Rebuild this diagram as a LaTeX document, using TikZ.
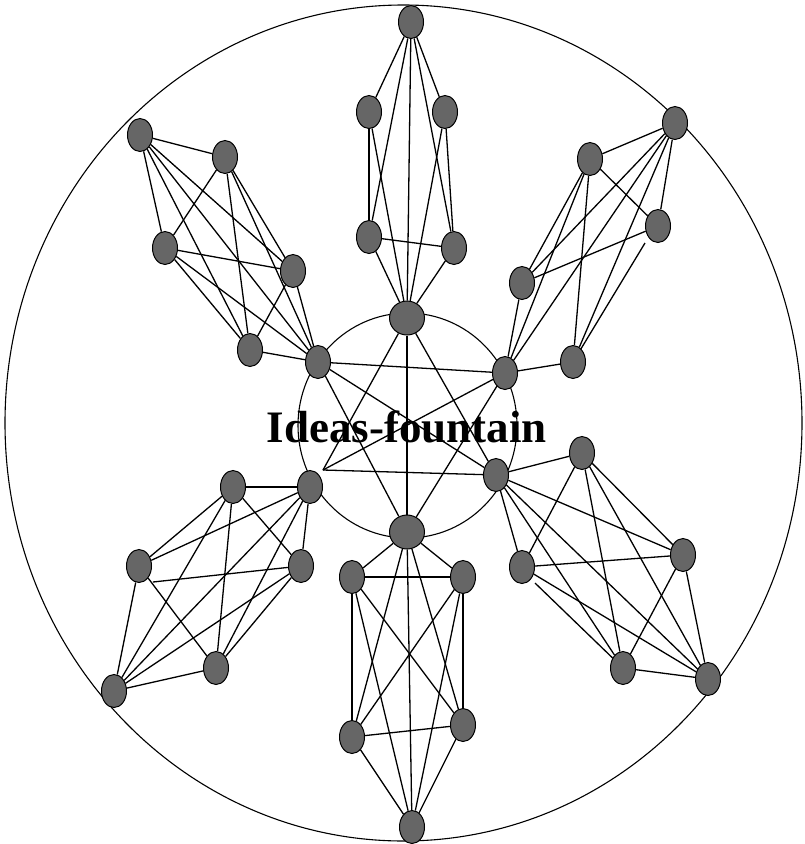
\documentclass[tikz,border=0pt]{standalone}
\usepackage{fontspec}
\setmainfont{Liberation Serif}
\usetikzlibrary{shapes.geometric}
\definecolor{nodegray}{RGB}{102,102,102}
\begin{document}
\begin{tikzpicture}[x=1pt,y=-1pt,
  dot/.style={ellipse,draw=black,fill=nodegray,line width=1pt,minimum width=25pt,minimum height=33pt,inner sep=0pt},
  bigdot/.style={dot,minimum width=35pt,minimum height=34pt},
  link/.style={line width=1.3pt},
  ring/.style={line width=1.1pt}]
\useasboundingbox (0,0) rectangle (805,844);
% circles
\draw[ring] (403.5,423) ellipse [x radius=398.5, y radius=418];
\draw[ring] (407.5,425.5) ellipse [x radius=109.5, y radius=112.5];
% inner nodes
\node[bigdot] (it) at (407,318) {};
\node[dot] (iul) at (318,362) {};
\node[dot] (iur) at (505,373) {};
\node[dot] (ill) at (310,487) {};
\node[dot] (ilr) at (496,475) {};
\node[bigdot] (ib) at (407,532) {};
\coordinate (llp) at (323,470);
% top cluster
\node[dot] (tT) at (411,22) {};
\node[dot] (tA) at (369,112) {};
\node[dot] (tB) at (445,112) {};
\node[dot] (tC) at (369,237) {};
\node[dot] (tD) at (454,248) {};
% upper-left cluster
\node[dot] (p1) at (140,135) {};
\node[dot] (p2) at (225,157) {};
\node[dot] (p3) at (165,248) {};
\node[dot] (p4) at (293,271) {};
\node[dot] (p5) at (250,350) {};
% upper-right cluster
\node[dot] (q1) at (675,123) {};
\node[dot] (q2) at (590,159) {};
\node[dot] (q3) at (658,226) {};
\node[dot] (q4) at (522,283) {};
\node[dot] (q5) at (573,362) {};
\coordinate (q3p) at (645,243);
% lower-left cluster
\node[dot] (r1) at (233,487) {};
\node[dot] (r2) at (139,566) {};
\node[dot] (r3) at (301,566) {};
\node[dot] (r4) at (216,668) {};
\node[dot] (r5) at (114,691) {};
\coordinate (r2p) at (153,582);
% bottom cluster
\node[dot] (bA) at (352,577) {};
\node[dot] (bB) at (463,577) {};
\node[dot] (bC) at (352,737) {};
\node[dot] (bD) at (463,725) {};
\node[dot] (bE) at (412,827) {};
% lower-right cluster
\node[dot] (s1) at (582,453) {};
\node[dot] (s2) at (522,567) {};
\node[dot] (s3) at (683,555) {};
\node[dot] (s4) at (623,668) {};
\node[dot] (s5) at (708,679) {};
\coordinate (s2p) at (535,583);
% inner edges
\foreach \a/\b in {it/llp,it/ilr,llp/ilr,ib/iul,ib/iur,iul/iur,it/ib,iul/ilr,llp/iur}
  \draw[link] (\a) -- (\b);
% top cluster edges
\foreach \a/\b in {tT/tA,tT/tB,tT/tC,tT/tD,tT/it,tA/tC,tB/tD,tA/it,tB/it,tC/tD,tC/it,tD/it}
  \draw[link] (\a) -- (\b);
% upper-left cluster edges
\foreach \a/\b in {p1/p2,p1/p3,p1/p4,p1/p5,p1/iul,p2/p3,p2/p4,p2/p5,p2/iul,p3/p4,p3/p5,p3/iul,p4/p5,p4/iul,p5/iul}
  \draw[link] (\a) -- (\b);
% upper-right cluster edges
\foreach \a/\b in {q1/q2,q1/q3,q1/q4,q1/q5,q1/iur,q2/q3,q2/q4,q2/q5,q2/iur,q3/q4,q3p/q5,q4/iur,q5/iur}
  \draw[link] (\a) -- (\b);
% lower-left cluster edges
\foreach \a/\b in {r1/ill,r1/r2,r1/r3,r1/r4,r1/r5,ill/r2,ill/r3,ill/r4,ill/r5,r2p/r3,r2/r4,r2/r5,r3/r4,r3/r5,r4/r5}
  \draw[link] (\a) -- (\b);
% bottom cluster edges
\foreach \a/\b in {ib/bA,ib/bB,ib/bC,ib/bD,ib/bE,bA/bB,bA/bC,bA/bD,bA/bE,bB/bC,bB/bD,bB/bE,bC/bD,bC/bE,bD/bE}
  \draw[link] (\a) -- (\b);
% lower-right cluster edges
\foreach \a/\b in {ilr/s1,ilr/s2,ilr/s3,ilr/s4,ilr/s5,s1/s2,s1/s3,s1/s4,s1/s5,s2/s3,s2p/s4,s2/s5,s3/s4,s3/s5,s4/s5}
  \draw[link] (\a) -- (\b);
% title
\node[anchor=base,inner sep=0pt,font=\fontsize{45}{50}\selectfont\bfseries] (title) at (407,442) {Ideas-fountain};
\end{tikzpicture}
\end{document}
